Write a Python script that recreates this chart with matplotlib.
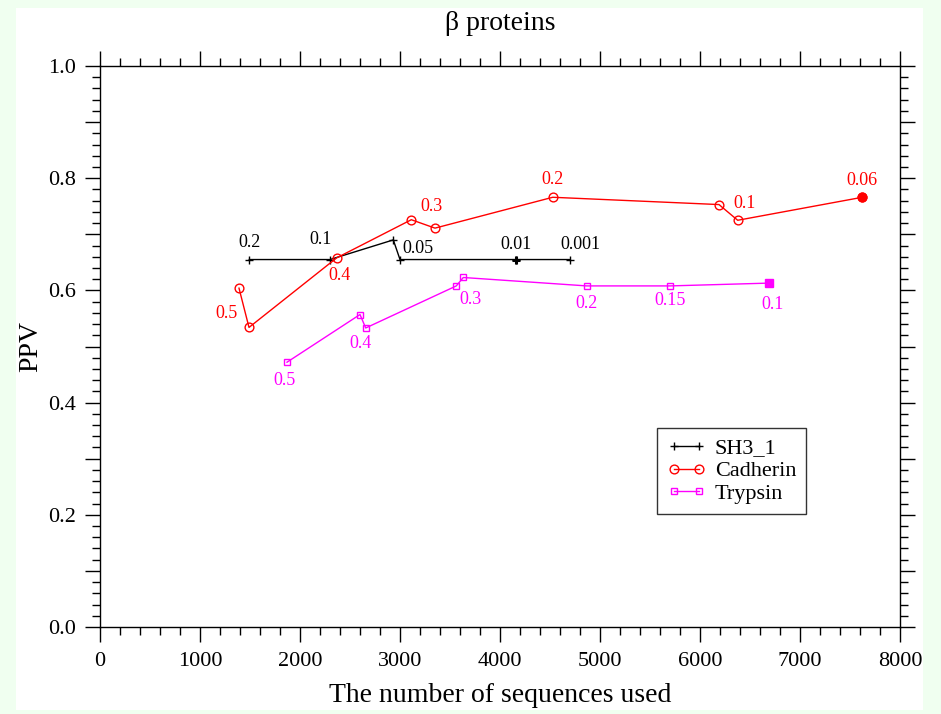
import matplotlib
matplotlib.use("Agg")
import matplotlib.pyplot as plt
from matplotlib.patches import Rectangle
from matplotlib.ticker import MultipleLocator, FixedLocator, FixedFormatter

plt.rcParams.update({
    'font.family': ['Liberation Serif', 'DejaVu Serif'],
    'font.size': 14,
})

# ── data ──
sh3_x = [1493, 2300, 2933, 3000, 4160, 4700]
sh3_y = [0.655, 0.655, 0.690, 0.655, 0.655, 0.655]
sh3_lab = ['0.2', '0.1', None, '0.05', '0.01', '0.001']

cad_x = [1390, 1490, 2367, 3113, 3350, 4527, 6190, 6377, 7623]
cad_y = [0.604, 0.534, 0.658, 0.726, 0.711, 0.766, 0.753, 0.725, 0.766]
cad_lab = ['0.5', None, '0.4', '0.3', None, '0.2', None, '0.1', '0.06']

tryp_x = [1870, 2600, 2657, 3563, 3633, 4867, 5700, 6690]
tryp_y = [0.472, 0.557, 0.533, 0.608, 0.623, 0.608, 0.608, 0.613]
tryp_lab = ['0.5', None, '0.4', None, '0.3', '0.2', '0.15', '0.1']

# label offsets in pixels (layout only)
sh3_off = [(0, 17), (-9, 20), None, (18, 11), (0, 15), (10, 15)]
cad_off = [(-13, -25), None, (3, -18), (20, 13), None, (0, 18), None, (7, 17), (0, 17)]
tryp_off = [(-2, -18), None, (-5, -16), None, (7, -22), (0, -18), (0, -15), (4, -21)]

C_BG = '#F0FFF0'

fig = plt.figure(figsize=(9.41, 7.14), dpi=100)
fig.patch.set_facecolor(C_BG)
fig.add_artist(Rectangle((16 / 941, 1 - 710 / 714), 907 / 941, 702 / 714,
                         transform=fig.transFigure, facecolor='white',
                         edgecolor='none', zorder=-10))

ax = fig.add_axes([100 / 941, 1 - 627 / 714, 800 / 941, 561 / 714])
ax.set_facecolor('white')

# series
ax.plot(sh3_x, sh3_y, color='black', lw=1.0, marker='+', ms=6, mew=1.0, label='SH3_1')
ax.plot(sh3_x[4], sh3_y[4], color='black', marker='+', ms=6, mew=2.2, ls='none')

ax.plot(cad_x, cad_y, color='red', lw=1.0, marker='o', ms=6.3, mfc='none', mew=1.0,
        label='Cadherin')
ax.plot(cad_x[-1], cad_y[-1], color='red', marker='o', ms=6.3, ls='none')

ax.plot(tryp_x, tryp_y, color='magenta', lw=1.0, marker='s', ms=5, mfc='none', mew=1.0,
        label='Trypsin')
ax.plot(tryp_x[-1], tryp_y[-1], color='magenta', marker='s', ms=5.5, ls='none')

def put_labels(xs, ys, labs, offs, color):
    for x, y, t, o in zip(xs, ys, labs, offs):
        if t is None:
            continue
        ax.annotate(t, (x, y), xytext=o, textcoords='offset pixels',
                    ha='center', va='center', fontsize=13, color=color)

put_labels(sh3_x, sh3_y, sh3_lab, sh3_off, 'black')
put_labels(cad_x, cad_y, cad_lab, cad_off, 'red')
put_labels(tryp_x, tryp_y, tryp_lab, tryp_off, 'magenta')

# axes
ax.set_xlim(0, 8000)
ax.set_ylim(0, 1.0)
ax.xaxis.set_major_locator(MultipleLocator(1000))
ax.xaxis.set_minor_locator(MultipleLocator(200))
yt = [i / 10 for i in range(11)]
ax.yaxis.set_major_locator(FixedLocator(yt))
ax.yaxis.set_major_formatter(FixedFormatter(['%.1f' % v if i % 2 == 0 else '' for i, v in enumerate(yt)]))
ax.yaxis.set_minor_locator(MultipleLocator(0.02))
ax.tick_params(which='both', direction='out', top=True, right=True, width=1.0,
               labelsize=16)
ax.tick_params(which='major', length=11)
ax.tick_params(which='minor', length=5.5)
ax.tick_params(axis='x', pad=7)
ax.tick_params(axis='y', pad=6)
for s in ax.spines.values():
    s.set_linewidth(1.0)

ax.set_xlabel('The number of sequences used', fontsize=20, labelpad=9)
ax.set_ylabel('PPV', fontsize=20, labelpad=4)
ax.set_title('β proteins', fontsize=20, pad=26)

leg = ax.legend(loc='upper left', bbox_to_anchor=(557 / 800, 1 - (428 - 66) / 561),
                numpoints=2, handlelength=1.75, fontsize=16, frameon=True,
                fancybox=False, edgecolor='black', borderpad=0.45,
                labelspacing=0.1, handletextpad=0.4, borderaxespad=0)
leg.get_frame().set_linewidth(1.0)

plt.savefig('out.png', dpi=100, facecolor=C_BG)
plt.close()
